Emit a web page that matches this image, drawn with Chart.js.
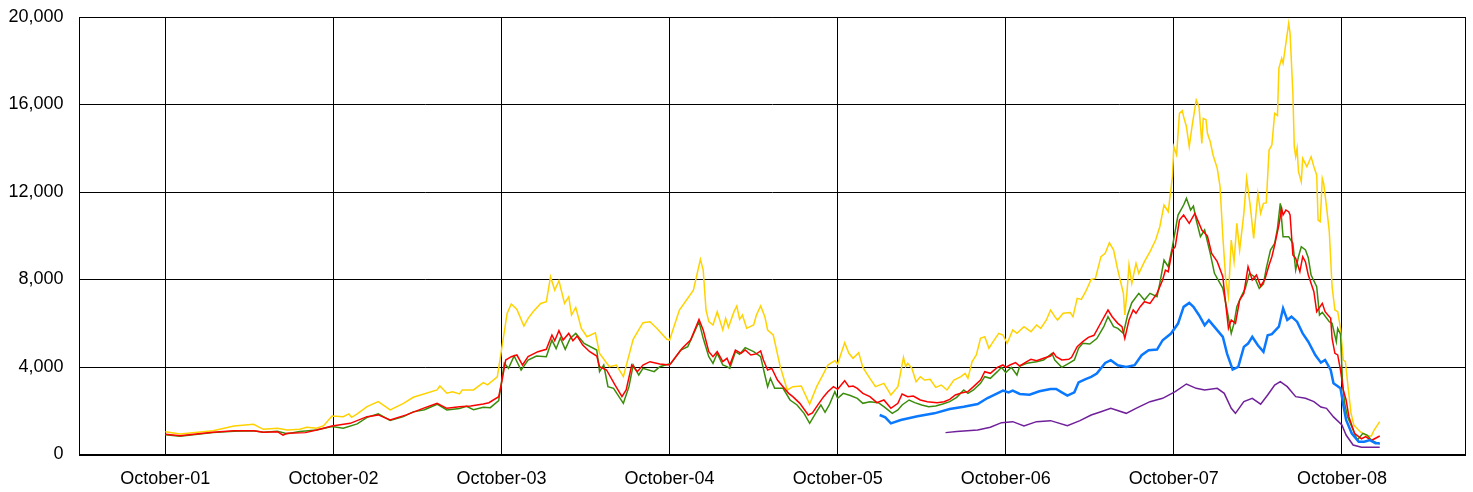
<!DOCTYPE html>
<html><head><meta charset="utf-8">
<script src="https://cdn.jsdelivr.net/npm/chart.js@4.4.1/dist/chart.umd.min.js"></script>
<style>html,body{margin:0;padding:0;background:#fff;}#wrap{width:1473px;height:492px;}</style>
</head><body><div id="wrap"><canvas id="c" width="1473" height="492"></canvas></div>
<script>
// x values are months counted from October 2001
const tickMonths = [0,12,24,36,48,60,72,84];
const tickLabels = ["October-01","October-02","October-03","October-04","October-05","October-06","October-07","October-08"];
const yTicks = [0,4000,8000,12000,16000,20000];

const goldMonths = [0,1.05,3.4,4.9,6.3,7,8,8.7,9.6,10.1,10.8,11.3,11.9,12.7,13.1,13.3,13.7,14.4,15.2,16.05,17,17.7,19.4,19.6,20.1,20.5,21,21.2,22,22.7,23,23.7,24,24.4,24.7,25.1,25.6,25.9,26.3,26.8,27.2,27.5,27.8,28.1,28.5,28.8,29,29.3,29.7,30.1,30.7,31,31.7,32.2,32.7,33.4,34.1,34.6,35.1,35.8,36,36.7,37.7,38.2,38.4,38.6,38.8,39.1,39.4,39.8,40,40.2,40.6,40.8,41,41.2,41.5,42,42.2,42.5,42.8,43,43.4,43.9,44.4,44.8,45.4,46,46.5,47,47.3,47.8,48,48.5,48.8,49.1,49.5,49.8,50.3,50.7,51.3,51.8,52.3,52.7,52.85,53,53.3,53.6,53.9,54.2,54.6,55,55.4,55.8,56.3,56.8,57.1,57.3,57.6,57.9,58.2,58.5,58.8,59.1,59.5,59.8,60.1,60.5,60.8,61.3,61.8,62.2,62.5,62.9,63.2,63.5,63.7,64.1,64.6,64.8,65.1,65.4,65.7,66.1,66.4,66.8,67.1,67.4,67.7,68,68.4,68.5,68.65,68.8,69,69.3,69.5,69.9,70.3,70.7,71,71.3,71.6,71.9,72,72.2,72.4,72.6,72.7,72.9,73.1,73.3,73.6,73.8,74,74.1,74.3,74.4,74.6,74.8,75.1,75.3,75.5,75.7,75.9,76.1,76.3,76.5,76.7,77,77.2,77.45,77.7,78,78.2,78.4,78.6,78.8,79,79.2,79.4,79.5,79.7,79.8,80,80.2,80.3,80.5,80.6,80.7,80.8,80.9,81.1,81.2,81.5,81.8,82,82.2,82.3,82.45,82.6,82.7,82.9,83.1,83.3,83.5,83.7,83.9,84.1,84.25,84.45,84.65,84.85,85.3,85.8,86.1,86.3,86.7];
const goldValues = [1044,937,1090,1303,1379,1150,1200,1120,1150,1240,1200,1318,1760,1730,1855,1700,1855,2187,2415,2035,2340,2615,2950,3130,2800,2870,2770,2950,2950,3284,3185,3550,4777,6450,6877,6633,5870,6222,6557,6907,6984,8126,7517,7943,6907,7212,6374,6724,5764,5384,5567,4624,4015,4091,3558,5263,6024,6070,5764,5263,5232,6603,7517,8918,8434,6606,6073,5920,6530,5692,6225,5814,6530,6789,6180,6378,5768,5920,6378,6789,6302,5692,5463,4015,2949,3101,3131,2308,3101,3711,4092,4290,4137,5113,4625,4397,4656,3980,3482,3101,3253,2720,3101,4442,4015,4168,3939,3329,3558,3406,3436,3070,3177,2949,3406,3558,3711,3482,4244,4549,5311,5387,4854,5159,5540,5463,5082,5692,5540,5845,5616,5920,5768,6150,6606,6302,6150,6454,6486,6300,7140,7090,7442,8000,8052,9043,9195,9683,9348,8433,7366,6376,7366,8662,7824,8738,8281,8814,9271,9805,10414,11405,11100,12700,14072,13691,15596,15720,15443,14986,14072,15000,16206,15900,14224,15367,15300,14682,14300,13691,13082,12243,9958,8052,7214,9805,8814,10567,9348,11024,12624,11400,9881,11938,11024,11481,11500,13919,14148,15596,15500,17653,18110,17882,18796,19710,19253,16511,14072,13615,13996,12929,12472,13538,13157,13615,13157,12776,10719,10643,12624,12396,11329,10186,7672,6605,6530,5767,4320,4244,3025,1900,1350,1044,845,845,1120,1501];

const greenMonths = [0,1.05,3.4,4.9,6.3,7,8,8.7,9.6,10.8,11.9,12.7,13.7,14.4,15.2,16.05,17,17.7,18.5,19.4,20.1,21,21.5,22,22.7,23.2,23.8,24.2,24.5,24.9,25.4,25.9,26.5,27.2,27.6,27.9,28.2,28.55,28.9,29.3,29.9,30.8,31,31.3,31.6,32,32.7,33.1,33.4,33.8,34.1,34.9,35.3,35.7,36.1,36.8,37.3,38.1,38.4,38.8,39.1,39.4,39.8,40.1,40.3,40.7,41,41.4,42,42.5,42.8,43,43.2,43.5,44.1,44.6,45.1,45.6,46,46.5,46.8,47.1,47.4,47.8,48,48.4,48.9,49.4,49.8,50.3,50.9,51.3,51.9,52.3,52.6,53.1,53.5,54,54.5,55,55.5,56,56.5,57,57.3,57.7,58.2,58.5,58.9,59.4,59.7,60,60.4,60.8,61,61.5,62.2,62.7,63.3,63.5,64,64.5,64.9,65.2,65.5,66,66.5,67,67.3,67.7,68,68.4,68.7,69,69.5,69.9,70.3,70.8,71,71.3,71.6,71.9,72.3,72.7,72.9,73.2,73.4,73.6,73.9,74.2,74.6,74.9,75.3,75.5,75.8,76.1,76.3,76.5,76.8,77.1,77.4,77.75,78.1,78.4,78.6,78.9,79.2,79.4,79.6,79.8,80.2,80.5,80.7,80.9,81.1,81.4,81.6,81.8,82.2,82.4,82.6,83.1,83.3,83.6,83.7,83.9,84.05,84.2,84.4,84.8,85.1,85.5,85.8,86.1,86.7];
const greenValues = [905,830,1000,1060,1090,1012,1060,950,1050,1120,1280,1200,1400,1700,1855,1560,1730,1950,2050,2300,2035,2100,2200,2050,2156,2140,2460,4167,3939,4502,3863,4319,4502,4472,5232,4838,5324,4807,5310,5536,5080,4777,3787,4091,3101,3025,2338,3101,4091,3634,3939,3787,4015,4091,4167,4777,4929,6070,5311,4473,4168,4625,4092,4015,3939,4701,4580,4884,4701,4473,3634,3101,3482,3025,3025,2491,2263,1882,1425,1958,2263,1928,2263,2873,2568,2796,2700,2568,2339,2415,2371,2187,1882,2035,2263,2491,2371,2263,2187,2217,2310,2415,2613,2949,2796,2949,3253,3558,3482,3787,3985,3741,3985,3634,4046,4168,4244,4320,4625,4320,3985,4168,4320,4854,5082,5052,5300,5843,6300,5843,5767,5538,6376,6940,7366,7062,7366,7214,7824,8890,8585,9500,10948,11405,11710,11176,11359,10719,9958,10262,9195,8281,7824,7595,6605,5538,5996,6757,7214,7595,8281,8128,7595,7800,8510,9348,9653,10338,11481,9957,9957,9653,8433,9043,9500,9348,9000,8205,7672,6376,6500,6072,6000,5157,5767,5500,3177,2340,1730,1120,660,967,890,660,473];

const redMonths = [0,1.05,3.4,4.9,6.3,7,8,8.4,8.7,10,10.8,11.9,13.2,14.4,15.2,16.05,17.2,18.4,19.4,20.1,21,21.8,22.7,23.1,23.8,24,24.3,24.7,25.1,25.5,25.9,26.6,27.2,27.6,27.8,28.1,28.4,28.8,29.1,29.4,29.8,30.3,30.8,31,31.5,32.1,32.6,32.9,33.3,33.7,34.1,34.6,35.3,36,36.9,37.5,38.1,38.4,38.8,39.1,39.4,39.8,40.1,40.3,40.7,41.1,41.4,41.8,42.2,42.5,42.7,43,43.3,43.7,44.1,44.5,44.8,45.3,45.9,46.2,46.5,47,47.3,47.7,48,48.5,48.8,49.1,49.4,49.8,50.3,50.8,51.3,51.8,52.3,52.6,53,53.4,53.9,54.4,55.1,55.6,56,56.4,56.9,57.3,57.7,58.2,58.5,58.9,59.4,59.8,60,60.3,60.7,61,61.5,61.8,62.2,62.7,63.2,63.4,63.6,64,64.5,64.7,65.1,65.5,65.9,66.3,66.9,67.3,67.6,68,68.3,68.5,68.8,69.1,69.3,69.6,69.9,70.3,70.8,71.2,71.4,71.6,71.9,72.1,72.4,72.7,73.1,73.5,73.8,74,74.4,74.7,75.1,75.5,75.7,75.9,76.1,76.4,76.7,77,77.3,77.6,77.9,78.2,78.5,78.8,79,79.2,79.5,79.7,79.8,80,80.2,80.3,80.5,80.7,81,81.2,81.4,81.6,82,82.2,82.6,82.8,83.2,83.3,83.5,83.7,83.9,84.1,84.3,84.5,84.9,85.4,85.7,86.1,86.7];
const redValues = [922,860,1012,1090,1090,1012,1044,880,970,1000,1120,1303,1425,1730,1810,1580,1810,2110,2340,2110,2187,2217,2308,2369,2643,3252,4319,4472,4548,4091,4472,4700,4807,5462,5203,5660,5232,5536,5203,5415,5004,4700,4502,4015,3863,3178,2643,2948,4091,3787,4091,4243,4137,4091,4853,5232,6176,5690,4701,4473,4701,4244,4397,4092,4778,4625,4778,4549,4600,4732,4320,3863,3939,3406,3101,2796,2644,2339,1806,1900,2187,2644,2873,3101,2980,3375,3101,3131,3025,2796,2644,2371,2491,2111,2339,2766,2644,2674,2491,2415,2371,2415,2522,2720,2827,2873,3101,3406,3787,3711,3985,4092,3985,4092,4198,4046,4244,4351,4290,4397,4503,4655,4473,4320,4351,4442,4930,5159,5357,5450,6148,6605,6300,5996,5843,5310,6148,6605,6453,6757,6985,6909,7366,7976,8433,8357,9348,9500,10719,10948,10567,11024,10567,10262,9986,9195,8814,8128,6909,5767,6148,5996,7062,7366,8585,7976,8205,7700,8000,8662,9043,9576,10490,11253,10948,11176,11100,10948,9119,8967,8357,9043,8800,8205,7443,6529,6910,6529,6224,5310,4624,4550,3862,2948,2491,1730,967,720,815,640,845];

const blueMonths = [51,51.4,51.8,52.5,53.7,54.9,56,57,58,58.7,59.4,59.8,60.2,60.5,61,61.7,62.4,63.2,63.6,64,64.4,64.9,65.2,65.7,66.1,66.5,67.1,67.5,68,68.6,69.2,69.7,70.2,70.8,71.2,71.8,72.3,72.7,73.1,73.4,73.8,74.2,74.5,74.9,75.5,75.8,76.2,76.6,77,77.3,77.6,78,78.4,78.7,79,79.5,79.8,80.1,80.4,80.8,81.2,81.6,82.1,82.5,82.8,83.2,83.4,83.9,84.1,84.3,84.7,85.2,85.6,86,86.4,86.7];
const blueValues = [1806,1700,1425,1578,1745,1882,2080,2187,2310,2583,2796,2918,2842,2918,2766,2735,2888,2994,2994,2842,2690,2842,3300,3450,3548,3700,4188,4309,4081,4005,4081,4538,4766,4797,5224,5529,5986,6748,6930,6748,6367,5910,6138,5834,5377,4614,3883,4005,4919,5072,5377,4995,4690,5453,5500,5843,6681,6148,6300,6072,5538,5157,4548,4200,4320,3863,3253,3025,2263,1577,967,585,585,660,510,510];

const purpleMonths = [55.7,56.5,58,58.9,59.7,60.5,61.3,62.2,63.2,64.4,65.3,66.1,66.8,67.5,68.6,69.3,70.3,71.2,72.1,72.9,73.6,74.2,75.1,75.6,76.1,76.4,77,77.6,78.2,78.7,79.2,79.6,80.1,80.7,81.4,82,82.5,82.9,83.4,84,84.3,84.8,85.4,86.7];
const purpleValues = [1000,1046,1120,1243,1456,1502,1303,1502,1548,1319,1548,1806,1958,2111,1882,2111,2415,2568,2873,3223,3025,2949,3025,2796,2111,1882,2415,2568,2300,2720,3177,3330,3101,2644,2568,2415,2170,2111,1720,1348,890,433,327,327];

function pts(xs, ys){ return xs.map((x,i)=>({x:x, y:ys[i]})); }
function ds(label, xs, ys, color, w, order){
  return {label, data: pts(xs, ys), borderColor: color, borderWidth: w, pointRadius: 0,
    fill: false, tension: 0, order: order};
}

const framePlugin = {
  id: 'frame',
  beforeDatasetsDraw(chart){
    const {ctx, chartArea: a} = chart;
    ctx.save();
    ctx.strokeStyle = '#000';
    ctx.lineWidth = 1;
    ctx.beginPath();
    ctx.moveTo(Math.round(a.left)+0.5, Math.round(a.bottom));
    ctx.lineTo(Math.round(a.left)+0.5, Math.round(a.top)+0.5);
    ctx.lineTo(Math.round(a.right)-0.5, Math.round(a.top)+0.5);
    ctx.lineTo(Math.round(a.right)-0.5, Math.round(a.bottom));
    ctx.stroke();
    ctx.lineWidth = 2;
    ctx.beginPath();
    ctx.moveTo(Math.round(a.left), Math.round(a.bottom));
    ctx.lineTo(Math.round(a.right), Math.round(a.bottom));
    ctx.stroke();
    ctx.restore();
  }
};

new Chart(document.getElementById('c'), {
  type: 'line',
  data: { datasets: [
    ds('Gold', goldMonths, goldValues, '#FFD200', 1.5, 5),
    ds('Green', greenMonths, greenValues, '#3A8C0A', 1.5, 4),
    ds('Red', redMonths, redValues, '#FF0000', 1.5, 3),
    ds('Blue', blueMonths, blueValues, '#0A78FF', 2.5, 2),
    ds('Purple', purpleMonths, purpleValues, '#70209A', 1.5, 1)
  ]},
  options: {
    responsive: false,
    animation: false,
    devicePixelRatio: 1,
    layout: { padding: { top: 17, right: 7, bottom: 0, left: 0 } },
    plugins: { legend: { display: false }, tooltip: { enabled: false } },
    scales: {
      x: {
        type: 'linear', min: -6.2, max: 92.86,
        afterBuildTicks: s => { s.ticks = tickMonths.map(v => ({value: v})); },
        afterFit: s => { s.height = 37.5; s.paddingLeft = 0; s.paddingRight = 0; },
        grid: { color: '#000', lineWidth: 1, drawTicks: false },
        border: { display: false },
        ticks: {
          autoSkip: false, maxRotation: 0, padding: 14,
          color: '#000', font: { family: 'Liberation Sans, Arial, sans-serif', size: 18 },
          callback: v => tickLabels[tickMonths.indexOf(v)]
        }
      },
      y: {
        min: 0, max: 20000,
        afterBuildTicks: s => { s.ticks = yTicks.map(v => ({value: v})); },
        afterFit: s => { s.width = 78.5; s.paddingTop = 0; s.paddingBottom = 0; },
        grid: { color: '#000', lineWidth: 1, drawTicks: false },
        border: { display: false },
        ticks: {
          padding: 15, color: '#000',
          font: { family: 'Liberation Sans, Arial, sans-serif', size: 18 },
          callback: v => v.toLocaleString('en-US')
        }
      }
    }
  },
  plugins: [framePlugin]
});
</script>
</body></html>
